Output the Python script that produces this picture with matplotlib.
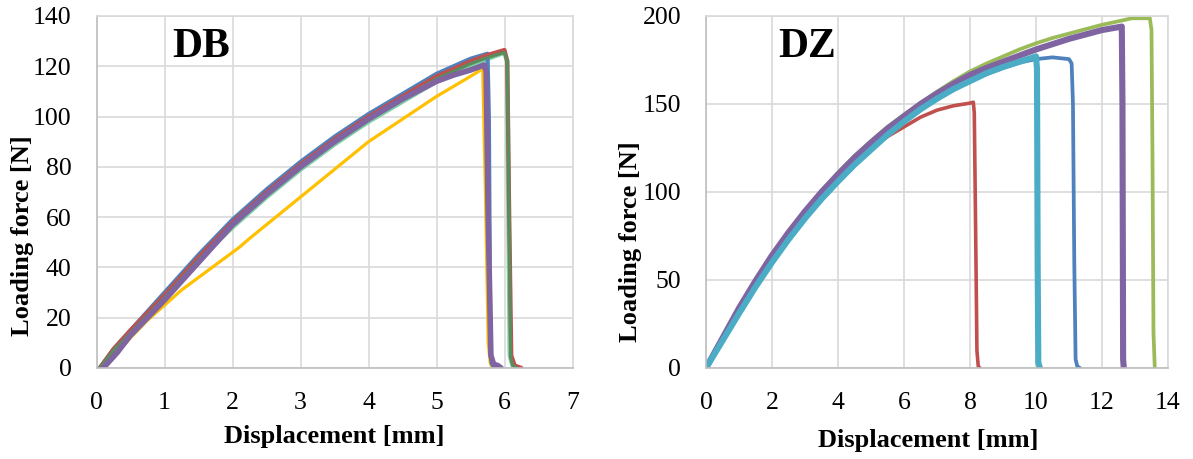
import matplotlib
matplotlib.use("Agg")
import matplotlib.pyplot as plt

plt.rcParams['font.family'] = ['Liberation Serif', 'DejaVu Serif']

# ---- DB panel data (displacement mm, force N) ----
db_yellow_x = [0.1, 0.3, 0.5, 0.75, 1.0, 1.25, 1.5, 1.75, 2.0, 2.1, 2.25, 2.5, 2.75, 3.0, 3.25,
               3.5, 3.75, 4.0, 4.25, 4.5, 4.75, 5.0, 5.25, 5.5, 5.68, 5.72, 5.76, 5.79, 5.82]
db_yellow_y = [0, 6, 12, 19, 25, 31, 36, 41, 46, 48, 51.5, 57, 62.5, 68, 73.5,
               79, 84.5, 90, 94.5, 99, 103.5, 108, 112, 116, 119, 70, 10, 2, 0]
db_mint_x = [0.05, 0.25, 0.5, 0.75, 1.0, 1.25, 1.5, 1.75, 2.0, 2.25, 2.5, 2.75, 3.0, 3.25, 3.5,
             3.75, 4.0, 4.25, 4.5, 4.75, 5.0, 5.25, 5.5, 5.75, 6.0, 6.04, 6.06, 6.08, 6.12, 6.2]
db_mint_y = [0, 7, 14, 21, 28, 35.5, 43, 49.5, 56, 62, 68, 73.5, 79, 84, 89,
             93.5, 98, 102, 106, 110, 114, 117, 120, 123, 125.5, 122, 60, 5, 1, 0]
db_blue_x = [0.05, 0.25, 0.5, 0.75, 1.0, 1.25, 1.5, 1.75, 2.0, 2.25, 2.5, 2.75, 3.0, 3.25, 3.5,
             3.75, 4.0, 4.25, 4.5, 4.75, 5.0, 5.25, 5.5, 5.75, 5.77, 5.79, 5.81, 5.85]
db_blue_y = [0, 7.5, 15, 22.5, 30, 37.5, 45, 52, 59, 65, 71, 76.5, 82, 87, 92,
             96.5, 101, 105, 109, 113, 117, 120, 123, 125, 100, 10, 2, 0]
db_red_x = [0.05, 0.25, 0.5, 0.75, 1.0, 1.25, 1.5, 1.75, 2.0, 2.25, 2.5, 2.75, 3.0, 3.25, 3.5,
            3.75, 4.0, 4.25, 4.5, 4.75, 5.0, 5.25, 5.5, 5.75, 6.0, 6.04, 6.07, 6.1, 6.15, 6.25]
db_red_y = [0, 7.5, 15, 22, 29, 36.5, 44, 51, 58, 64, 70, 75.5, 81, 86, 91,
            95.5, 100, 104, 108, 112, 116, 119, 122, 124.5, 126.5, 122, 60, 5, 1, 0]
db_dgreen_x = [0.05, 0.25, 0.5, 0.75, 1.0, 1.25, 1.5, 1.75, 2.0, 2.25, 2.5, 2.75, 3.0, 3.25, 3.5,
               3.75, 4.0, 4.25, 4.5, 4.75, 5.0, 5.25, 5.5, 5.75, 6.0, 6.04, 6.07, 6.09, 6.12, 6.18]
db_dgreen_y = [0, 7, 14, 21, 28, 35.5, 43, 50, 57, 63, 69, 74.5, 80, 85, 90,
               94.5, 99, 103, 107, 111, 115, 118, 121, 123.5, 125.5, 122, 60, 4, 1, 0]
db_purple_x = [0.1, 0.3, 0.5, 0.75, 1.0, 1.25, 1.5, 1.75, 2.0, 2.25, 2.5, 2.75, 3.0, 3.25, 3.5,
               3.75, 4.0, 4.25, 4.5, 4.75, 5.0, 5.25, 5.5, 5.7, 5.73, 5.76, 5.8, 5.84, 5.9, 5.95]
db_purple_y = [0, 6, 13, 20, 27, 34.5, 42, 49.5, 57, 63, 69, 74.5, 80, 85, 90,
               94.5, 99, 103, 107, 110.5, 114, 116.5, 118.5, 120.5, 118, 60, 5, 1.5, 1, 0]

# ---- DZ panel data ----
dz_red_x = [0, 0.5, 1, 1.5, 2, 2.5, 3, 3.5, 4, 4.5, 5, 5.5, 6, 6.5, 7, 7.5, 8, 8.1,
            8.13, 8.17, 8.21, 8.25, 8.3]
dz_red_y = [0, 16.5, 33, 48, 62, 75, 87, 98, 108, 117, 125, 131.5, 137, 142.5, 146.5, 149, 150.5, 151,
            145, 80, 10, 1, 0]
dz_blue_x = [0, 0.5, 1, 1.5, 2, 2.5, 3, 3.5, 4, 4.5, 5, 5.5, 6, 6.5, 7, 7.5, 8, 8.5, 9, 9.5,
             10, 10.5, 11.0, 11.08, 11.12, 11.16, 11.2, 11.25, 11.33]
dz_blue_y = [0, 15.5, 31, 46, 60, 73, 85, 96, 106, 115.5, 124, 132.5, 140, 146.5, 153, 158, 163, 167, 170.5, 173.5,
             175.5, 176.5, 175.5, 173, 150, 60, 5, 1, 0]
dz_green_x = [0, 0.5, 1, 1.5, 2, 2.5, 3, 3.5, 4, 4.5, 5, 5.5, 6, 6.5, 7, 7.5, 8, 8.5, 9, 9.5,
              10, 10.5, 11, 11.5, 12, 12.5, 12.9, 13.45, 13.5, 13.53, 13.56, 13.6]
dz_green_y = [0, 17, 34, 49.5, 64, 77, 89, 100.5, 111, 120.5, 129, 137, 144, 150.5, 157, 163, 168.5, 173, 177, 181,
              184.5, 187.5, 190, 192.5, 195, 197, 198.7, 198.7, 192, 120, 20, 0]
dz_purple_x = [0, 0.5, 1, 1.5, 2, 2.5, 3, 3.5, 4, 4.5, 5, 5.5, 6, 6.5, 7, 7.5, 8, 8.5, 9, 9.5,
               10, 10.5, 11, 11.5, 12, 12.6, 12.62, 12.64, 12.66]
dz_purple_y = [0, 17, 34, 49.5, 64, 77, 89, 100, 110, 119.5, 128, 136, 143, 150, 156, 161.5, 166.5, 170.5, 174, 177.5,
               181, 184, 187, 189.5, 192, 194, 150, 5, 0]
dz_cyan_x = [0, 0.5, 1, 1.5, 2, 2.5, 3, 3.5, 4, 4.5, 5, 5.5, 6, 6.5, 7, 7.5, 8, 8.5, 9, 9.5,
             10.0, 10.03, 10.05, 10.07, 10.12]
dz_cyan_y = [0, 15.5, 31, 46, 60, 73, 85, 96, 106, 115.5, 124, 132.5, 140, 147, 153, 158.5, 163, 167.5, 171, 174,
             177, 170, 60, 3, 0]

fig = plt.figure(figsize=(11.93, 4.59), dpi=100)
W, H = 1193, 459
ax1 = fig.add_axes([96.5 / W, 1 - 368 / H, 476 / W, 352 / H])
ax2 = fig.add_axes([706 / W, 1 - 368 / H, 462 / W, 352 / H])

kw = dict(solid_capstyle='round', solid_joinstyle='round')
ax1.plot(db_yellow_x, db_yellow_y, color='#FFC000', lw=2.3, **kw)
ax1.plot(db_mint_x, db_mint_y, color='#7DD0A4', lw=3.4, **kw)
ax1.plot(db_blue_x, db_blue_y, color='#4F81BD', lw=3.0, **kw)
ax1.plot(db_red_x, db_red_y, color='#C0504D', lw=3.0, **kw)
ax1.plot(db_dgreen_x, db_dgreen_y, color='#5B8C5E', lw=2.3, **kw)
ax1.plot(db_purple_x, db_purple_y, color='#8064A2', lw=4.0, **kw)

ax2.plot(dz_red_x, dz_red_y, color='#C0504D', lw=2.6, **kw)
ax2.plot(dz_blue_x, dz_blue_y, color='#4F81BD', lw=2.7, **kw)
ax2.plot(dz_green_x, dz_green_y, color='#9BBB59', lw=2.7, **kw)
ax2.plot(dz_purple_x, dz_purple_y, color='#8064A2', lw=4.4, **kw)
ax2.plot(dz_cyan_x, dz_cyan_y, color='#4BACC6', lw=4.4, **kw)

panels = [(ax1, 7, 1, 140, 20, 'DB', 201), (ax2, 14, 2, 200, 50, 'DZ', 807)]
for ax, xmax, xstep, ymax, ystep, name, tx in panels:
    ax.set_xlim(0, xmax)
    ax.set_ylim(0, ymax)
    ax.set_xticks(range(0, xmax + 1, xstep))
    ax.set_yticks(range(0, ymax + 1, ystep))
    ax.grid(True, color='#D9D9D9', lw=1.2)
    ax.set_axisbelow(True)
    for s in ax.spines.values():
        s.set_color('#D9D9D9')
        s.set_linewidth(1.2)
    ax.spines['left'].set_color('#BFBFBF')
    ax.spines['bottom'].set_color('#BFBFBF')
    ax.tick_params(length=0, labelsize=18.5, pad=17)
    ax.tick_params(axis='y', pad=18)
    ax.set_xlabel('Displacement [mm]', fontsize=19, fontweight='bold')
    ax.set_ylabel('Loading force [N]', fontsize=19, fontweight='bold')
    fig.text(tx / W, 1 - 47 / H, name, fontsize=30, fontweight='bold',
             ha='center', va='center')

ax1.xaxis.set_label_coords(0.5, -(437 - 368) / 352, transform=ax1.transAxes)
ax2.xaxis.set_label_coords(0.48, -(440 - 368) / 352, transform=ax2.transAxes)
ax1.yaxis.set_label_coords(-(96.5 - 22) / 476, (368 - 236) / 352, transform=ax1.transAxes)
ax2.yaxis.set_label_coords(-(706 - 630) / 462, (368 - 242) / 352, transform=ax2.transAxes)
for ax in (ax1, ax2):
    ax.xaxis.label.set_va('center')
    ax.yaxis.label.set_va('center')

fig.savefig('out.png', dpi=100)
